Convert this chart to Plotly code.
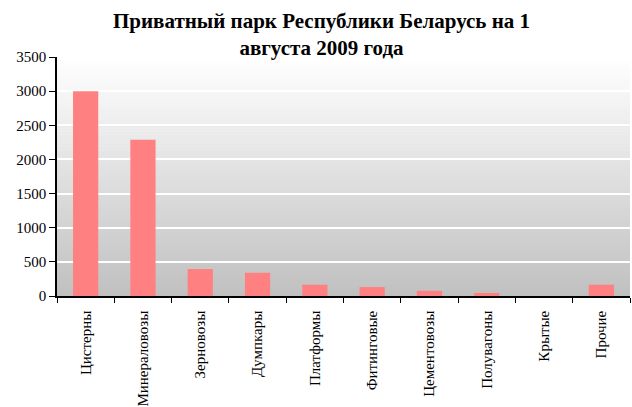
import plotly.graph_objects as go

categories = ["Цистерны", "Минераловозы", "Зерновозы", "Думпкары", "Платформы",
              "Фитинговые", "Цементовозы", "Полувагоны", "Крытые", "Прочие"]
values = [3000, 2290, 395, 340, 165, 130, 75, 45, 0, 165]
y_ticks = [0, 500, 1000, 1500, 2000, 2500, 3000, 3500]
title_text = "<b>Приватный парк Республики Беларусь на 1<br>августа 2009 года</b>"

fig = go.Figure()
fig.add_trace(go.Bar(x=categories, y=values, marker=dict(color="#FF8080", line=dict(width=0)),
                     hoverinfo="x+y"))

# gradient plot background (white at top -> gray at bottom)
shapes = []
n = 80
for i in range(n):
    f0 = i / n
    f1 = (i + 1) / n
    fm = (f0 + f1) / 2  # fraction from bottom
    c = int(round(192 + (255 - 192) * fm))
    shapes.append(dict(type="rect", xref="paper", yref="paper", x0=0, x1=1, y0=f0, y1=f1 + 0.002,
                       fillcolor=f"rgb({c},{c},{c})", line=dict(width=0), layer="below"))

fig.update_layout(
    width=632, height=407,
    margin=dict(l=57, r=2, t=57, b=111, autoexpand=False),
    paper_bgcolor="white",
    plot_bgcolor="rgba(0,0,0,0)",
    shapes=shapes,
    bargap=0.56,
    showlegend=False,
    font=dict(family="Liberation Serif", size=15, color="black"),
    annotations=[dict(text=title_text, xref="paper", yref="paper", x=0.461, y=1.094,
                      xanchor="center", yanchor="middle", showarrow=False,
                      font=dict(family="Liberation Serif", size=21, color="black"))],
    xaxis=dict(type="category", tickangle=-90, ticks="outside", tickson="boundaries",
               ticklen=5, tickcolor="black", showline=True, linecolor="black", linewidth=1.5,
               showgrid=False, tickfont=dict(size=15), ticklabelstandoff=7, automargin=False),
    yaxis=dict(range=[0, 3500], tickvals=y_ticks, ticks="outside", ticklen=6, tickcolor="black",
               showline=True, linecolor="black", linewidth=1.5, showgrid=True,
               gridcolor="white", gridwidth=1.5, zeroline=False, tickfont=dict(size=15),
               automargin=False),
)

fig.write_html("out.html", config={"displayModeBar": False},
               post_script="document.body.style.margin='0px';")
